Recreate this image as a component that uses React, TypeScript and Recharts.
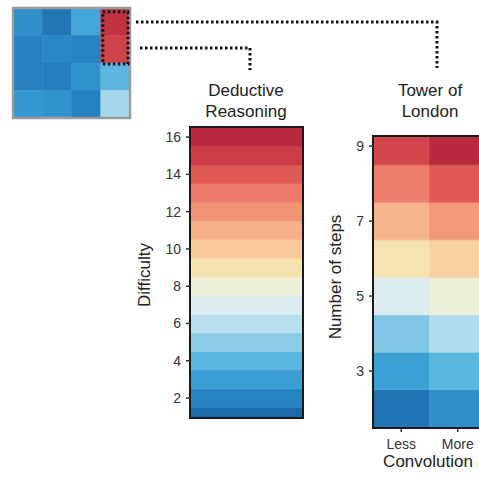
import React from 'react';
import { ComposedChart, XAxis, YAxis, ReferenceArea } from 'recharts';

// colour scale used by every heatmap (low -> high)
const heatPalette = [
  '#1c69aa', '#2782c2', '#3a9dd4', '#5bb6e0', '#8bcbe6', '#b8dfee', '#dcecf0', '#edefd8',
  '#f6e2ae', '#f8c99a', '#f5b08a', '#f19474', '#ec7a6a', '#df5a57', '#cc3c47', '#b8283f',
];

// overview matrix (rows top -> bottom), values on the palette scale
const overviewRow1 = [1.5, 0.5, 2.3, 14.5];
const overviewRow2 = [0.9, 1.2, 1.0, 13.8];
const overviewRow3 = [0.9, 0.85, 1.6, 3.0];
const overviewRow4 = [1.8, 1.6, 0.95, 4.6];
const overviewRows = [overviewRow1, overviewRow2, overviewRow3, overviewRow4];

// deductive reasoning
const deductiveDifficulty = [1, 2, 3, 4, 5, 6, 7, 8, 9, 10, 11, 12, 13, 14, 15, 16];
const deductiveHeat = [0, 1, 2, 3, 4, 5, 6, 7, 8, 9, 10, 11, 12, 13, 14, 15];
const deductiveTicks = [2, 4, 6, 8, 10, 12, 14, 16];

// tower of london
const towerSteps = [2, 3, 4, 5, 6, 7, 8, 9];
const towerLess = [0.4, 2.1, 3.8, 6, 7.9, 9.8, 11.8, 13.7];
const towerMore = [1.4, 3, 4.85, 7, 8.6, 10.8, 13, 15];
const towerTicks = [3, 5, 7, 9];
const convolutionLabels = ['Less', 'More'];

const FONT = '"Liberation Sans", Arial, Helvetica, sans-serif';

function hexToRgb(h: string) {
  const n = parseInt(h.slice(1), 16);
  return [(n >> 16) & 255, (n >> 8) & 255, n & 255];
}

function heatColor(v: number) {
  const c = Math.max(0, Math.min(heatPalette.length - 1, v));
  const i = Math.min(Math.floor(c), heatPalette.length - 2);
  const t = c - i;
  const a = hexToRgb(heatPalette[i]);
  const b = hexToRgb(heatPalette[i + 1]);
  const rgb = a.map((x, k) => Math.round(x + (b[k] - x) * t));
  return `rgb(${rgb[0]},${rgb[1]},${rgb[2]})`;
}

export default function App() {
  const tickStyle = { fontSize: 14, fill: '#333', fontFamily: FONT };
  const cellProps = (v: number) => {
    const col = heatColor(v);
    return { fill: col, fillOpacity: 1, stroke: col, strokeWidth: 0.6, ifOverflow: 'hidden' as const };
  };

  return (
    <div style={{ position: 'absolute', left: 0, top: 0, width: 479, height: 479, overflow: 'hidden', background: '#fff', fontFamily: FONT }}>
      {/* overview matrix */}
      <div style={{ position: 'absolute', left: 0, top: 0 }}>
        <ComposedChart width={140} height={130} margin={{ top: 8, right: 10, bottom: 12, left: 13 }}>
          <XAxis type="number" dataKey="x" domain={[0, 4]} hide allowDataOverflow />
          <YAxis type="number" domain={[0, 4]} hide allowDataOverflow />
          {overviewRows.map((row, r) =>
            row.map((v, c) => (
              <ReferenceArea key={`o${r}-${c}`} x1={c} x2={c + 1} y1={3 - r} y2={4 - r} {...cellProps(v)} />
            ))
          )}
          <ReferenceArea x1={0} x2={4} y1={0} y2={4} fill="none" stroke="#9c9c9c" strokeWidth={2.5} />
          <ReferenceArea x1={3.07} x2={3.93} y1={1.96} y2={3.86} fill="none" fillOpacity={0} stroke="#111" strokeWidth={3} strokeDasharray="2.5 2.5" />
        </ComposedChart>
      </div>

      {/* deductive reasoning */}
      <div style={{ position: 'absolute', left: 130, top: 70 }}>
        <ComposedChart width={190} height={380} margin={{ top: 57, right: 17, bottom: 32, left: 0 }}>
          <XAxis type="number" dataKey="x" domain={[0, 1]} hide allowDataOverflow />
          <YAxis
            type="number"
            width={60}
            domain={[0.93, 16.54]}
            ticks={deductiveTicks}
            allowDataOverflow
            axisLine={false}
            tickLine={{ stroke: '#333', strokeWidth: 1.5 }}
            tickSize={4}
            tickMargin={5}
            tick={tickStyle}
          />
          {deductiveDifficulty.map((d, i) => (
            <ReferenceArea key={`d${d}`} x1={0} x2={1} y1={d - 0.5} y2={d + 0.5} {...cellProps(deductiveHeat[i])} />
          ))}
          <ReferenceArea x1={0} x2={1} y1={0.93} y2={16.54} fill="none" stroke="#1a1a1a" strokeWidth={2} />
        </ComposedChart>
      </div>

      {/* tower of london */}
      <div style={{ position: 'absolute', left: 300, top: 70 }}>
        <ComposedChart width={200} height={400} margin={{ top: 66, right: 14, bottom: 20, left: 0 }}>
          <XAxis
            type="number"
            dataKey="x"
            domain={[0, 2]}
            ticks={[0.5, 1.5]}
            tickFormatter={(v: number) => convolutionLabels[Math.floor(v)]}
            height={22}
            allowDataOverflow
            axisLine={false}
            tickLine={{ stroke: '#333', strokeWidth: 1.5 }}
            tickSize={4}
            tickMargin={7}
            tick={tickStyle}
          />
          <YAxis
            type="number"
            width={73}
            domain={[1.48, 9.27]}
            ticks={towerTicks}
            allowDataOverflow
            axisLine={false}
            tickLine={{ stroke: '#333', strokeWidth: 1.5 }}
            tickSize={4}
            tickMargin={5}
            tick={tickStyle}
          />
          {towerSteps.map((s, i) => (
            <ReferenceArea key={`l${s}`} x1={0} x2={1} y1={s - 0.5} y2={s + 0.5} {...cellProps(towerLess[i])} />
          ))}
          {towerSteps.map((s, i) => (
            <ReferenceArea key={`m${s}`} x1={1} x2={2} y1={s - 0.5} y2={s + 0.5} {...cellProps(towerMore[i])} />
          ))}
          <ReferenceArea x1={0} x2={2} y1={1.48} y2={9.27} fill="none" stroke="#1a1a1a" strokeWidth={2} />
        </ComposedChart>
      </div>

      {/* connectors and labels */}
      <svg width={479} height={479} style={{ position: 'absolute', left: 0, top: 0, pointerEvents: 'none' }}>
        <polyline points="136,22 437,22 437,68" fill="none" stroke="#111" strokeWidth={3} strokeDasharray="2.5 2.5" />
        <polyline points="140,48 250,48 250,70" fill="none" stroke="#111" strokeWidth={3} strokeDasharray="2.5 2.5" />
        <g fontFamily={FONT} fontSize={17} fill="#222" textAnchor="middle">
          <text x={246} y={96}>Deductive</text>
          <text x={246} y={117}>Reasoning</text>
          <text x={430} y={96}>Tower of</text>
          <text x={430} y={117}>London</text>
          <text transform="translate(150,275) rotate(-90)">Difficulty</text>
          <text transform="translate(341,277) rotate(-90)">Number of steps</text>
          <text x={428} y={467}>Convolution</text>
        </g>
      </svg>
    </div>
  );
}
